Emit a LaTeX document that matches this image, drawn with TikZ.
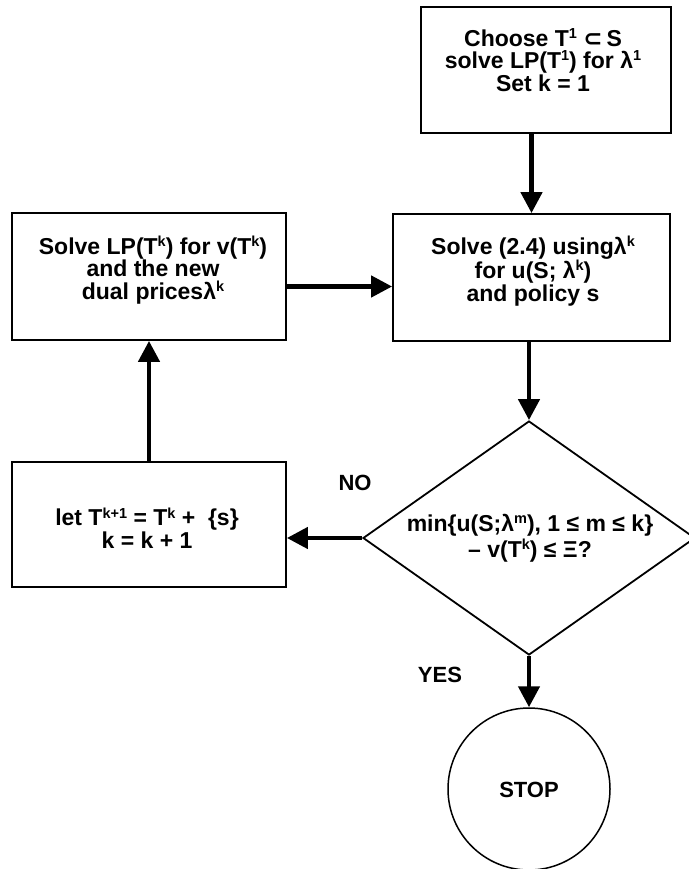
\documentclass[tikz,border=0pt]{standalone}
\usepackage{fontspec}
\setmainfont{Liberation Sans}
\newfontfamily\symfont{DejaVu Sans}
\usetikzlibrary{shapes.geometric,arrows.meta}
% raised small index, as in T^k or lambda^k
\newcommand\sups[1]{\raisebox{0.34em}{\fontsize{14.5}{14.5}\selectfont #1}}

\begin{document}
\begin{tikzpicture}[x=1pt,y=-1pt,
  box/.style={draw, line width=1.8pt, inner sep=0pt},
  txt/.style={font=\fontsize{23}{22.5}\selectfont\bfseries, align=center, inner sep=0pt},
  lbl/.style={font=\fontsize{22}{22}\selectfont\bfseries, inner sep=0pt},
  flow/.style={line width=4.5pt, -{Triangle[length=21pt,width=21pt]}},
]
\useasboundingbox (0,0) rectangle (688,869);

% process boxes
\node[box, minimum width=250pt, minimum height=126pt] (top) at (546,70) {};
\node[box, minimum width=277pt, minimum height=127pt] (mid) at (531.5,277.5) {};
\node[box, minimum width=274pt, minimum height=127pt] (left) at (149,276.5) {};
\node[box, minimum width=274pt, minimum height=125pt] (upd) at (149,524.5) {};

% decision and terminal
\node[draw, diamond, line width=1.8pt, inner sep=0pt, minimum width=332pt, minimum height=234pt] (dia) at (529,538) {};
\node[draw, circle, line width=1.5pt, inner sep=0pt, minimum size=162pt] (stop) at (529,789) {};

% texts
\node[txt] (ttop) at (543,60) {Choose T\sups{1} {\symfont\bfseries ⊂}\,S\\solve LP(T\sups{1}) for λ\sups{1}\\Set k = 1};
\node[txt] (tleft) at (153,270) {Solve LP(T\sups{k}) for v(T\sups{k})\\and the new\\dual pricesλ\sups{k}};
\node[txt] (tmid) at (533,271) {Solve (2.4) usingλ\sups{k}\\for u(S; λ\sups{k})\\and policy s};
\node[txt] (tupd) at (147,528) {let T\sups{k+1} = T\sups{k} + \ \{s\}\\k = k + 1};
\node[txt, font=\fontsize{23}{26}\selectfont\bfseries] (tdia) at (530,538) {min\{u(S;λ\sups{m}), 1 ≤ m ≤ k\}\\– v(T\sups{k}) ≤ Ξ?};
\node[lbl] (tstop) at (529,790) {STOP};

% branch labels
\node[lbl] (no) at (355,483) {NO};
\node[lbl] (yes) at (440,675) {YES};

% connectors
\coordinate (lr) at ([yshift=-10pt]left.east);
\draw[flow] (top.south -| mid.north) -- (mid.north);
\draw[flow] (dia.north |- mid.south) -- (dia.north);
\draw[flow] (dia.south) -- (stop.north);
\draw[flow] (dia.west) -- (dia.west -| upd.east);
\draw[flow] (upd.north) -- (left.south);
\draw[flow] (lr) -- (lr -| mid.west);
\end{tikzpicture}
\end{document}
